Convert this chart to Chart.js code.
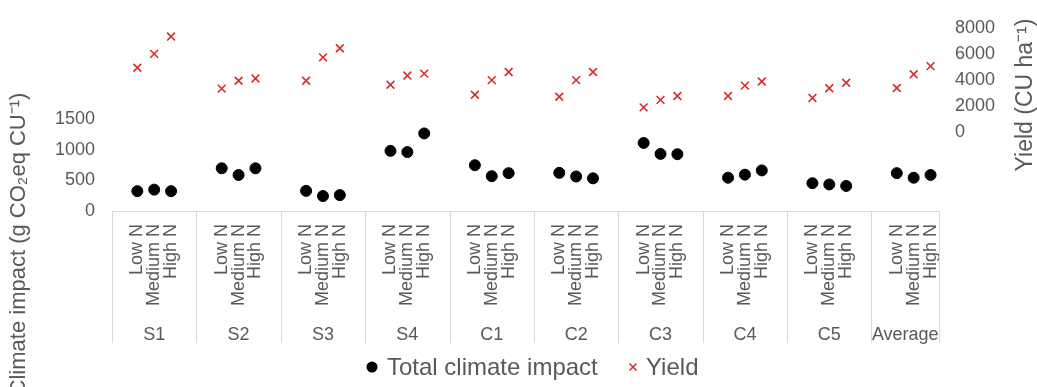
<!DOCTYPE html>
<html>
<head>
<meta charset="utf-8">
<script src="https://cdn.jsdelivr.net/npm/chart.js@4.4.0/dist/chart.umd.min.js"></script>
<style>
  html, body { margin: 0; padding: 0; background: #fff; }
  #wrap { position: relative; width: 1037px; height: 387px; }
</style>
</head>
<body>
<div id="wrap"><canvas id="c"></canvas></div>
<script>
const groups = ['S1', 'S2', 'S3', 'S4', 'C1', 'C2', 'C3', 'C4', 'C5', 'Average'];
const levels = ['Low N', 'Medium N', 'High N'];
// g CO2eq per CU, Low/Medium/High per group
const impact = [
  325, 350, 325,
  700, 590, 700,
  330, 245, 260,
  985, 965, 1270,
  750, 570, 620,
  625, 565, 535,
  1115, 935, 930,
  545, 595, 665,
  455, 435, 410,
  620, 545, 590
];
// CU per ha
const yieldVals = [
  4950, 6010, 7330,
  3350, 3950, 4130,
  3950, 5740, 6440,
  3650, 4350, 4500,
  2880, 4000, 4620,
  2730, 4000, 4620,
  1920, 2490, 2790,
  2790, 3580, 3900,
  2640, 3380, 3800,
  3400, 4450, 5070
];
const leftMax = 3000, leftStep = 500, leftShownMax = 1500;
const rightMin = -6000, rightMax = 8000, rightStep = 2000;

const textColor = '#595959';
const lineColor = '#d9d9d9';
const red = '#d92b2b';
const font = "'Liberation Sans', Arial, sans-serif";

// every group gets an empty slot before and after, except the last one
const labels = [], impactData = [], yieldData = [], groupStart = [];
groups.forEach((g, gi) => {
  groupStart.push(labels.length);
  labels.push(''); impactData.push(null); yieldData.push(null);
  levels.forEach((l, li) => {
    labels.push(l);
    impactData.push(impact[gi * 3 + li]);
    yieldData.push(yieldVals[gi * 3 + li]);
  });
  if (gi < groups.length - 1) { labels.push(''); impactData.push(null); yieldData.push(null); }
});
groupStart.push(labels.length);

const extras = {
  id: 'extras',
  afterDraw(chart) {
    const { ctx, scales: { x } } = chart;
    const top = chart.chartArea.bottom;
    const bottom = top + 132;
    ctx.save();
    ctx.strokeStyle = lineColor;
    ctx.lineWidth = 1;
    groupStart.forEach(i => {
      const px = Math.round(x.getPixelForValue(i - 0.5)) + 0.5;
      ctx.beginPath(); ctx.moveTo(px, top); ctx.lineTo(px, bottom); ctx.stroke();
    });
    ctx.fillStyle = textColor;
    ctx.font = `18px ${font}`;
    ctx.textAlign = 'center';
    ctx.textBaseline = 'alphabetic';
    groups.forEach((g, gi) => {
      const a = x.getPixelForValue(groupStart[gi] - 0.5);
      const b = x.getPixelForValue(groupStart[gi + 1] - 0.5);
      ctx.fillText(g, (a + b) / 2, 340);
    });

    // axis titles
    ctx.font = `22px ${font}`;
    ctx.textBaseline = 'middle';
    ctx.save();
    ctx.translate(19, 244); ctx.rotate(-Math.PI / 2);
    ctx.fillText('Climate impact (g CO\u2082eq CU\u207B\u00B9)', 0, 0);
    ctx.restore();
    ctx.save();
    ctx.font = `23px ${font}`;
    ctx.translate(1026, 95); ctx.rotate(-Math.PI / 2);
    ctx.fillText('Yield (CU ha\u207B\u00B9)', 0, 0);
    ctx.restore();

    // legend
    ctx.font = `24px ${font}`;
    ctx.textAlign = 'left';
    ctx.textBaseline = 'alphabetic';
    ctx.fillStyle = '#000';
    ctx.beginPath(); ctx.arc(372, 367, 5.5, 0, Math.PI * 2); ctx.fill();
    ctx.fillStyle = textColor;
    ctx.fillText(chart.data.datasets[0].label, 387, 375);
    ctx.strokeStyle = red; ctx.lineWidth = 1.5;
    ctx.beginPath();
    ctx.moveTo(629.5, 363.5); ctx.lineTo(636.5, 370.5);
    ctx.moveTo(636.5, 363.5); ctx.lineTo(629.5, 370.5);
    ctx.stroke();
    ctx.fillText(chart.data.datasets[1].label, 646, 375);
    ctx.restore();
  }
};

new Chart(document.getElementById('c'), {
  type: 'line',
  data: {
    labels,
    datasets: [
      {
        label: 'Total climate impact',
        data: impactData,
        yAxisID: 'y',
        showLine: false,
        pointStyle: 'circle',
        pointRadius: 5.5,
        pointBackgroundColor: '#000',
        pointBorderColor: '#000',
        pointBorderWidth: 1
      },
      {
        label: 'Yield',
        data: yieldData,
        yAxisID: 'y1',
        showLine: false,
        pointStyle: 'crossRot',
        pointRadius: 5.5,
        pointBorderColor: red,
        pointBorderWidth: 1.6
      }
    ]
  },
  options: {
    responsive: true,
    maintainAspectRatio: false,
    animation: false,
    events: [],
    layout: { padding: { top: 23.5, bottom: 44, left: 0, right: 0 } },
    plugins: { legend: { display: false }, tooltip: { enabled: false } },
    scales: {
      x: {
        type: 'category',
        offset: true,
        grid: { display: false, drawTicks: false },
        border: { display: true, color: lineColor, width: 1 },
        ticks: {
          autoSkip: false, minRotation: 90, maxRotation: 90, padding: 13,
          color: textColor, font: { family: font, size: 18 }
        },
        afterFit: s => { s.height = 132; }
      },
      y: {
        position: 'left',
        min: 0, max: leftMax,
        grid: { display: false, drawTicks: false },
        border: { display: false },
        ticks: {
          stepSize: leftStep, padding: 17, color: textColor,
          font: { family: font, size: 18 },
          callback: v => (v <= leftShownMax ? v : '')
        },
        afterFit: s => { s.width = 112; }
      },
      y1: {
        position: 'right',
        min: rightMin, max: rightMax,
        grid: { display: false, drawTicks: false },
        border: { display: false },
        ticks: {
          stepSize: rightStep, padding: 16, color: textColor,
          font: { family: font, size: 18 },
          callback: v => (v >= 0 ? v : '')
        },
        afterFit: s => { s.width = 98; }
      }
    }
  },
  plugins: [extras]
});
</script>
</body>
</html>
